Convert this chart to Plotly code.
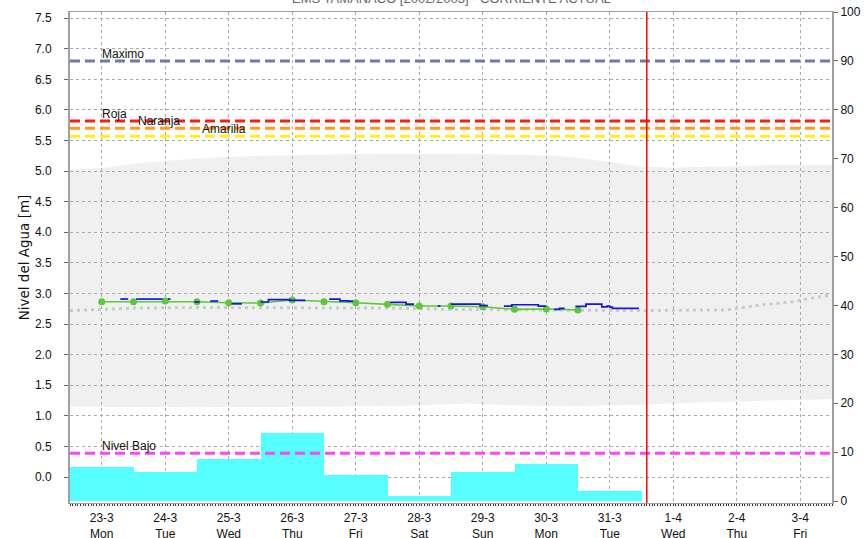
import plotly.graph_objects as go

# ---------------- data ----------------
day_labels = ["23-3", "24-3", "25-3", "26-3", "27-3", "28-3", "29-3", "30-3", "31-3", "1-4", "2-4", "3-4"]
weekday_labels = ["Mon", "Tue", "Wed", "Thu", "Fri", "Sat", "Sun", "Mon", "Tue", "Wed", "Thu", "Fri"]
tick_hours = [12, 36, 60, 84, 108, 132, 156, 180, 204, 228, 252, 276]

# daily rainfall (right axis)
rain_hours = [12, 36, 60, 84, 108, 132, 156, 180, 204]
rain_values = [6.9, 6.0, 8.5, 14.0, 5.4, 1.1, 6.0, 7.5, 2.0]

# observed water level (blue), hours since 23-3 00:00, None = gap
obs_hours = [19, 22, None, 25, 35, None, 37, 38, None, 47, 49, None, 53, 56, None, 61, 65, None,
             72, 75, 83, 89, None, 98, 102, 105, 107, None, 121, 127, 130, None, 139, 140, None,
             144, 155, 158, None, 164, 167, 177, 180, None, 183, 185, 187, None,
             191, 195, 201, 203, 204, 205, 215]
obs_values = [2.908, 2.908, None, 2.908, 2.908, None, 2.908, 2.908, None, 2.86, 2.86, None, 2.876, 2.876, None, 2.83, 2.83, None,
              2.86, 2.90, 2.886, 2.886, None, 2.908, 2.88, 2.875, 2.875, None, 2.855, 2.827, 2.827, None, 2.794, 2.794, None,
              2.827, 2.80, 2.80, None, 2.794, 2.815, 2.794, 2.794, None, 2.74, 2.757, 2.757, None,
              2.79, 2.827, 2.78, 2.794, 2.775, 2.757, 2.757]

# simulated / forecast level (green with markers)
sim_hours = [12, 24, 36, 48, 60, 72, 84, 96, 108, 120, 132, 144, 156, 168, 180, 192]
sim_values = [2.864, 2.864, 2.876, 2.864, 2.848, 2.843, 2.892, 2.864, 2.848, 2.822, 2.794, 2.794, 2.783, 2.740, 2.745, 2.729]

# mean level (grey dotted)
mean_hours = [0, 12, 24, 48, 72, 96, 120, 144, 168, 192, 216, 240, 248, 261, 273, 288]
mean_values = [2.72, 2.74, 2.76, 2.77, 2.77, 2.76, 2.76, 2.74, 2.73, 2.72, 2.72, 2.73, 2.73, 2.81, 2.865, 2.98]

# historical band (light grey)
band_up_hours = [0, 12, 24, 36, 48, 60, 72, 96, 120, 144, 168, 185, 204, 216, 228, 252, 264, 288]
band_up_values = [5.02, 5.05, 5.12, 5.17, 5.20, 5.23, 5.25, 5.27, 5.28, 5.28, 5.27, 5.25, 5.15, 5.07, 5.06, 5.08, 5.10, 5.10]
band_lo_hours = [0, 48, 96, 132, 150, 168, 192, 216, 240, 264, 288]
band_lo_values = [1.15, 1.14, 1.15, 1.17, 1.20, 1.17, 1.16, 1.18, 1.22, 1.25, 1.27]

# thresholds
threshold_names = ["Maximo", "Roja", "Naranja", "Amarilla", "Nivel Bajo"]
threshold_values = [6.80, 5.82, 5.70, 5.57, 0.39]
threshold_colors = ["#6F7BA3", "#FF1A1A", "#FF9A1A", "#FFF01A", "#FF44FF"]
label_hours = [11.5, 11.5, 25, 49, 11.5]

now_hour = 218
title_text = "EMS TAMANACO [2002/2003] - CORRIENTE ACTUAL"

FONT = "Liberation Sans"

fig = go.Figure()

# band as a below-grid shape built from the data
pts_up = list(zip(band_up_hours, band_up_values))
pts_lo = list(zip(band_lo_hours, band_lo_values))[::-1]
path = "M " + " L ".join(f"{x},{y}" for x, y in pts_up + pts_lo) + " Z"
fig.add_shape(type="path", path=path, xref="x", yref="y", layer="below",
              fillcolor="#F0F0F0", line=dict(width=0))

fig.add_trace(go.Scatter(x=mean_hours, y=mean_values, mode="lines",
                         line=dict(color="#CACACA", width=3, dash="3px,4px"),
                         showlegend=False, hoverinfo="skip"))
fig.add_trace(go.Scatter(x=sim_hours, y=sim_values, mode="lines+markers",
                         line=dict(color="#5CC83A", width=1.6),
                         marker=dict(color="#5CC83A", size=7),
                         showlegend=False))
fig.add_trace(go.Scatter(x=obs_hours, y=obs_values, mode="lines", line_shape="hv",
                         connectgaps=False,
                         line=dict(color="#1515E0", width=1.7), showlegend=False))
fig.add_trace(go.Bar(x=rain_hours, y=rain_values, width=24, yaxis="y2",
                     marker=dict(color="#55FFFF", line=dict(width=0)),
                     showlegend=False))

for name, val, col, lh in zip(threshold_names, threshold_values, threshold_colors, label_hours):
    fig.add_hline(y=val, line=dict(color=col, width=3, dash="10px,5px"))
    fig.add_annotation(x=lh, y=val, xref="x", yref="y", text=name, showarrow=False,
                       xanchor="left", yanchor="bottom", yshift=-2,
                       font=dict(family=FONT, size=12, color="#111"))

fig.add_vline(x=now_hour, line=dict(color="#FF0000", width=1.5))

fig.add_annotation(x=0.5, y=1, xref="paper", yref="paper", text=title_text, showarrow=False,
                   xanchor="center", yanchor="bottom", yshift=4,
                   font=dict(family=FONT, size=13, color="#666"))

grid = dict(showgrid=True, gridcolor="#ABABAB", gridwidth=1, griddash="3px,3px")

fig.update_layout(
    width=867, height=538,
    margin=dict(l=70, r=35, t=12, b=35),
    paper_bgcolor="white", plot_bgcolor="white",
    font=dict(family=FONT, size=12, color="#111"),
    bargap=0,
    xaxis=dict(range=[0, 288], tickvals=tick_hours, automargin=False,
               ticktext=[f"{d}<br>{w}" for d, w in zip(day_labels, weekday_labels)],
               showline=True, linecolor="#A0A0A0", linewidth=1, mirror=True,
               ticks="", zeroline=False, ticklabelstandoff=4,
               minor=dict(dtick=1, ticks="outside", ticklen=2, tickcolor="#333", tickwidth=1, showgrid=False),
               tickfont=dict(size=12), **grid),
    yaxis=dict(range=[-0.425, 7.6], dtick=0.5, tick0=0, tickformat=".1f", automargin=False,
               showline=True, linecolor="#A0A0A0", linewidth=2,
               ticks="outside", ticklen=4, tickcolor="#666", zeroline=False,
               ticklabelstandoff=10,
               title=dict(text="Nivel del Agua [m]", font=dict(family="DejaVu Sans", size=13.5), standoff=2),
               **grid),
    yaxis2=dict(range=[-0.4, 100], dtick=10, overlaying="y", side="right", automargin=False,
                showline=True, linecolor="#A0A0A0", linewidth=2,
                ticks="outside", ticklen=4, tickcolor="#666",
                showgrid=False, zeroline=False),
)

fig.write_html("out.html", config={"displayModeBar": False},
               post_script="document.body.style.margin='0px';document.body.style.overflow='hidden';")
